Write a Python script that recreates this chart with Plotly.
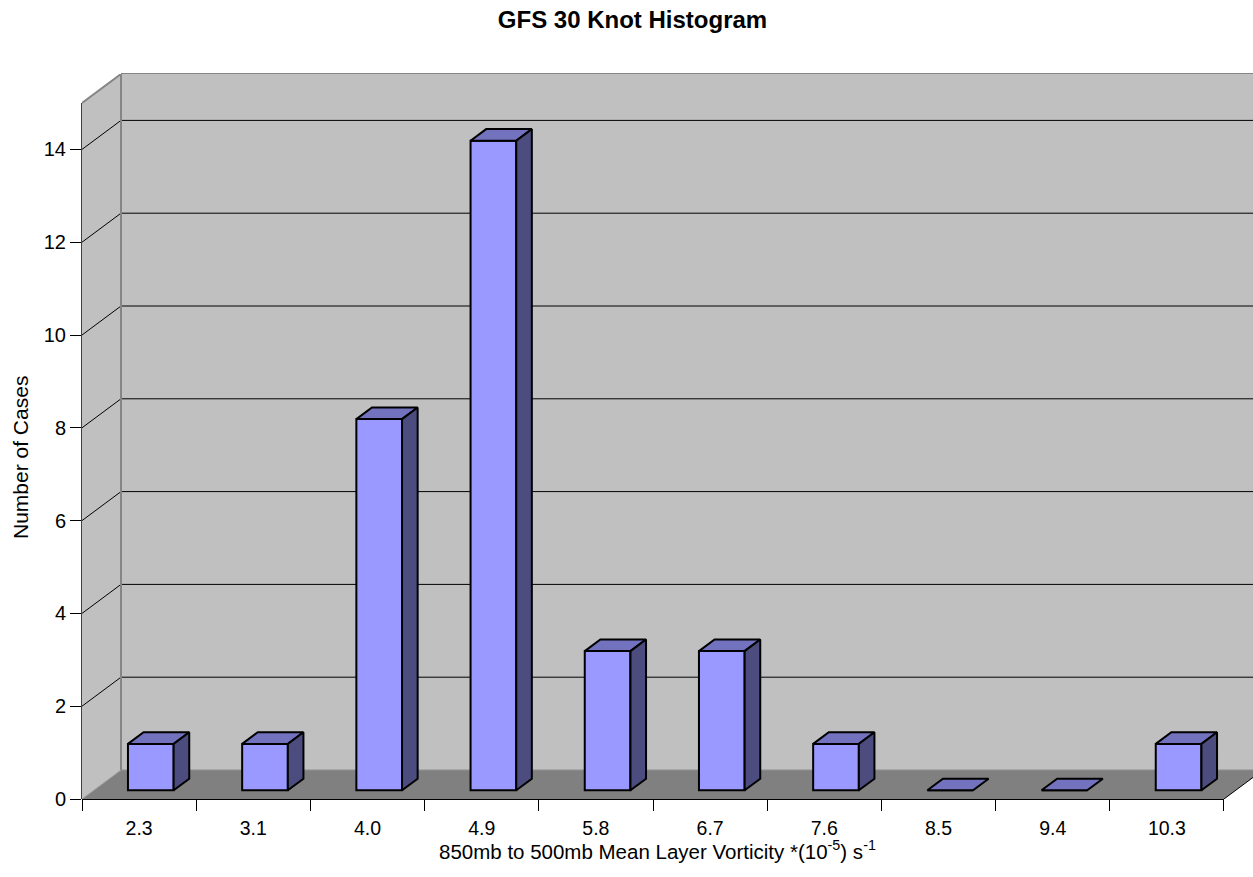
import plotly.graph_objects as go

# ---- data ----
categories = ["2.3", "3.1", "4.0", "4.9", "5.8", "6.7", "7.6", "8.5", "9.4", "10.3"]
counts = [1, 1, 8, 14, 3, 3, 1, 0, 0, 1]
y_ticks = [0, 2, 4, 6, 8, 10, 12, 14]
y_top = 15

# ---- 3D-look geometry (in axis units) ----
DX = 0.3415   # depth shift along x (category units)
DY = 0.625    # depth shift along y (value units)
BAR_W = 0.4
F0, F1 = 0.3, 0.7   # front / back depth fractions of the columns
N = len(categories)
XMAX = 10.254
YMAX = y_top + DY

FONT = "Liberation Sans, Arial, sans-serif"
FRONT = "#9999FF"
TOP = "#7272BF"
SIDE = "#4C4C7F"

centers = [i + 0.5 for i in range(N)]
fx = [c + F0 * DX for c in centers]          # front-face centre x
base = F0 * DY
ddx = (F1 - F0) * DX
ddy = (F1 - F0) * DY

fig = go.Figure()

# front faces
fig.add_trace(go.Bar(
    x=fx, y=counts, base=base, width=BAR_W,
    marker=dict(color=FRONT, line=dict(color="black", width=2)),
    hoverinfo="skip", showlegend=False))

# top faces
tx, ty = [], []
for x, v in zip(fx, counts):
    xl, xr = x - BAR_W / 2, x + BAR_W / 2
    h = v + base
    tx += [xl, xr, xr + ddx, xl + ddx, xl, None]
    ty += [h, h, h + ddy, h + ddy, h, None]
fig.add_trace(go.Scatter(x=tx, y=ty, mode="lines", fill="toself", fillcolor=TOP,
                         line=dict(color="black", width=2), hoverinfo="skip",
                         showlegend=False))

# side faces
sx, sy = [], []
for x, v in zip(fx, counts):
    if v == 0:
        continue
    xr = x + BAR_W / 2
    h = v + base
    sx += [xr, xr + ddx, xr + ddx, xr, xr, None]
    sy += [base, base + ddy, h + ddy, h, base, None]
fig.add_trace(go.Scatter(x=sx, y=sy, mode="lines", fill="toself", fillcolor=SIDE,
                         line=dict(color="black", width=2), hoverinfo="skip",
                         showlegend=False))

shapes = []
# back wall
shapes.append(dict(type="rect", xref="x", yref="y", x0=DX, x1=XMAX + 1, y0=DY, y1=YMAX + 1,
                   fillcolor="#C0C0C0", line=dict(width=0), layer="below"))
# side wall
shapes.append(dict(type="path", xref="x", yref="y",
                   path=f"M 0 0 L {DX} {DY} L {DX} {YMAX} L 0 {y_top} Z",
                   fillcolor="#C0C0C0", line=dict(width=0), layer="below"))
# floor
shapes.append(dict(type="path", xref="x", yref="y",
                   path=f"M 0 0 L {N} 0 L {N + DX} {DY} L {DX} {DY} Z",
                   fillcolor="#808080", line=dict(width=0), layer="below"))
# gridlines (back wall + side wall)
for v in y_ticks[1:]:
    shapes.append(dict(type="line", xref="x", yref="y", x0=DX, x1=XMAX + 1,
                       y0=v + DY, y1=v + DY, line=dict(color="black", width=1), layer="below"))
    shapes.append(dict(type="line", xref="x", yref="y", x0=0, x1=DX,
                       y0=v, y1=v + DY, line=dict(color="black", width=1), layer="below"))
# floor back edge & left floor edge
shapes.append(dict(type="line", xref="x", yref="y", x0=DX, x1=XMAX + 1, y0=DY, y1=DY,
                   line=dict(color="#909090", width=1), layer="below"))
shapes.append(dict(type="line", xref="x", yref="y", x0=0, x1=DX, y0=0, y1=DY,
                   line=dict(color="#A0A0A0", width=1), layer="below"))
# wall edges
shapes.append(dict(type="line", xref="x", yref="y", x0=DX, x1=DX, y0=DY, y1=YMAX,
                   line=dict(color="#858585", width=2), layer="below"))
shapes.append(dict(type="line", xref="x", yref="paper", x0=DX, x1=XMAX + 1, y0=1, y1=1,
                   line=dict(color="#858585", width=2), layer="below"))
shapes.append(dict(type="line", xref="x", yref="y", x0=0, x1=DX, y0=y_top, y1=YMAX,
                   line=dict(color="#858585", width=2), layer="below"))
# floor front edge and right edge
shapes.append(dict(type="line", xref="x", yref="paper", x0=0, x1=N, y0=0, y1=0,
                   line=dict(color="black", width=2), layer="below"))
shapes.append(dict(type="line", xref="x", yref="y", x0=N, x1=N + DX, y0=0, y1=DY,
                   line=dict(color="black", width=1), layer="below"))
# front value axis line
shapes.append(dict(type="line", xref="paper", yref="y", x0=0, x1=0, y0=0, y1=y_top,
                   line=dict(color="#404040", width=2), layer="below"))

fig.update_layout(
    width=1253, height=877,
    margin=dict(l=82, r=0, t=74, b=78, pad=0),
    paper_bgcolor="white", plot_bgcolor="white",
    font=dict(family=FONT, size=20, color="black"),
    shapes=shapes,
    barmode="overlay",
    hovermode=False,
    showlegend=False,
    title=dict(text="<b>GFS 30 Knot Histogram</b>", x=632.5 / 1253, xref="container",
               xanchor="center", y=1 - 20 / 877, yref="container", yanchor="middle",
               font=dict(family=FONT, size=24, color="black")),
    xaxis=dict(range=[0, XMAX], showgrid=False, zeroline=False, showline=False,
               tickmode="array", tickvals=centers, ticktext=categories, ticks="",
               tickfont=dict(size=19.5), ticklabelstandoff=15,
               minor=dict(tickmode="array", tickvals=list(range(N + 1)), ticks="outside",
                          ticklen=11, tickcolor="black", tickwidth=1, showgrid=False)),
    yaxis=dict(range=[0, YMAX], showgrid=False, zeroline=False, showline=False,
               tickmode="array", tickvals=y_ticks, ticks="outside", ticklen=11,
               tickcolor="black", tickwidth=1, tickfont=dict(size=20)),
    annotations=[
        dict(text="850mb to 500mb Mean Layer Vorticity *(10<sup>-5</sup>) s<sup>-1</sup>",
             xref="paper", yref="paper", x=(657 - 82) / 1171, y=0, yshift=-51,
             xanchor="center", yanchor="middle", showarrow=False,
             font=dict(family=FONT, size=20.5, color="black")),
        dict(text="Number of Cases", textangle=-90, xref="paper", yref="paper",
             x=0, xshift=-62, y=(799 - 458) / 725, xanchor="center", yanchor="middle",
             showarrow=False, font=dict(family=FONT, size=21, color="black")),
    ],
)

fig.write_html("out.html", config={"displayModeBar": False},
               post_script="document.body.style.margin='0';document.body.style.padding='0';")
